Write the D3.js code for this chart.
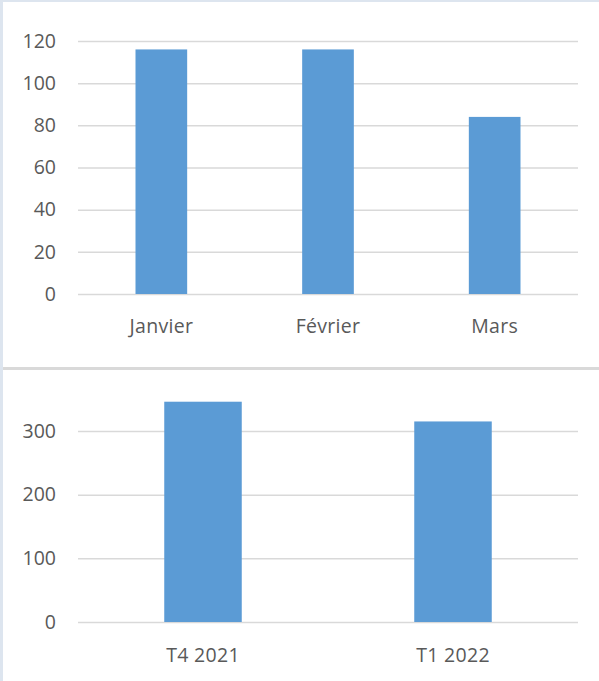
<!DOCTYPE html>
<html><head><meta charset="utf-8">
<script src="https://cdn.jsdelivr.net/npm/d3@7"></script>
<style>html,body{margin:0;padding:0;background:#fff;}svg{display:block;}</style>
</head><body>
<script>
const monthCategories = ["Janvier", "Février", "Mars"];
const monthValues = [116, 116, 84];
const monthTicks = [0, 20, 40, 60, 80, 100, 120];

const quarterCategories = ["T4 2021", "T1 2022"];
const quarterValues = [346, 315];
const quarterTicks = [0, 100, 200, 300];

const W = 599, H = 681;
const svg = d3.select("body").append("svg").attr("width", W).attr("height", H);
svg.append("rect").attr("width", W).attr("height", H).attr("fill", "#fff");

const font = "'Open Sans', sans-serif";
const textColor = "#595959";
const gridColor = "#d9d9d9";
const barColor = "#5b9bd5";
const fontSize = "19.5px";

function drawChart(cats, vals, ticks, yDomain, yRange, labelY) {
  const x = d3.scaleBand().domain(cats).range([78, 578]).paddingInner(0.69).paddingOuter(0.345);
  const y = d3.scaleLinear().domain(yDomain).range(yRange);
  const g = svg.append("g");
  const yAxis = d3.axisLeft(y).tickValues(ticks).tickSize(-500).tickPadding(0);
  const ga = g.append("g").attr("transform", "translate(78,0)").call(yAxis);
  ga.select(".domain").remove();
  ga.selectAll(".tick line").attr("stroke", gridColor).attr("stroke-width", 1.5);
  ga.selectAll(".tick text").attr("x", -22).attr("fill", textColor)
    .style("font-family", font).style("font-size", fontSize);
  g.selectAll(".bar").data(vals).enter().append("rect")
    .attr("x", (d, i) => x(cats[i]))
    .attr("width", x.bandwidth())
    .attr("y", d => y(d))
    .attr("height", d => y(0) - y(d))
    .attr("fill", barColor);
  const xAxis = d3.axisBottom(x).tickSize(0).tickPadding(0);
  const gx = g.append("g").attr("transform", `translate(0,${labelY})`).call(xAxis);
  gx.select(".domain").remove();
  gx.selectAll(".tick text").attr("fill", textColor).attr("dy", "0.35em")
    .style("font-family", font).style("font-size", fontSize).style("letter-spacing", "0.3px");
}

drawChart(monthCategories, monthValues, monthTicks, [0, 120], [294, 41], 326);
drawChart(quarterCategories, quarterValues, quarterTicks, [0, 300], [622, 431], 655);

// panel frame
svg.append("rect").attr("x", 0).attr("y", 0).attr("width", 3).attr("height", H).attr("fill", "#dde5ef");
svg.append("rect").attr("x", 0).attr("y", 0).attr("width", W).attr("height", 2).attr("fill", "#dde5ef");
svg.append("rect").attr("x", 3).attr("y", 367).attr("width", W - 3).attr("height", 3).attr("fill", "#d9d9d9");
</script>
</body></html>
